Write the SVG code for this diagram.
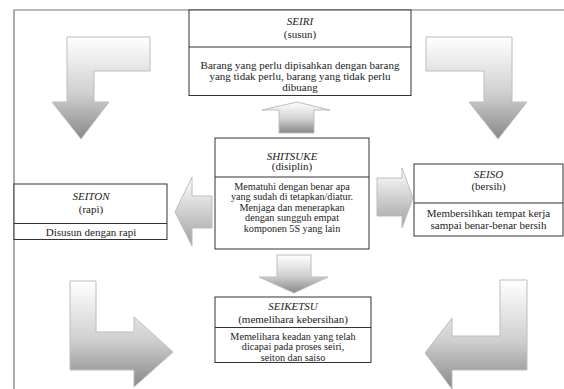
<svg xmlns="http://www.w3.org/2000/svg" width="564" height="389" viewBox="0 0 564 389">
<defs>
<linearGradient id="gv" x1="0" y1="0" x2="0" y2="1">
<stop offset="0" stop-color="#ffffff"/>
<stop offset="0.55" stop-color="#d0d0d0"/>
<stop offset="1" stop-color="#888888"/>
</linearGradient>
<linearGradient id="gh" x1="0" y1="0" x2="0" y2="1">
<stop offset="0" stop-color="#ffffff"/>
<stop offset="1" stop-color="#a0a0a0"/>
</linearGradient>
</defs>
<style>
.box{fill:#ffffff;stroke:#333333;stroke-width:1}
.div{stroke:#333333;stroke-width:1}
.frame{fill:none;stroke:#777777;stroke-width:1.2}
.arr{fill:url(#gv);stroke:#bdbdbd;stroke-width:1}
.arrh{fill:url(#gh);stroke:#bdbdbd;stroke-width:1}
text{font-family:"Liberation Serif","Times New Roman",serif;font-size:11px;fill:#222222;text-anchor:middle}
.t{font-style:italic}
.s{font-size:10.2px}
</style>
<rect width="564" height="389" fill="#ffffff"/>
<path class="frame" d="M14,389 L14,10 L564,10"/>
<g id="connectors">
<path class="arr" d="M67,37 L150,37 L150,71 L94,71 L94,102 L109,102 L81,139 L52,102 L67,102 Z"/>
<path class="arr" d="M426,37 L512,37 L512,102 L527,102 L498,139 L469,102 L484,102 L484,71 L426,71 Z"/>
<path class="arr" d="M70,281 L96,281 L96,332 L134,332 L134,317 L173,352 L134,387 L134,370 L70,370 Z"/>
<path class="arr" d="M500,280 L527,280 L527,370 L452,370 L452,389 L425,353 L452,318 L452,336 L500,336 Z"/>
<path class="arr" d="M297,102 L330,110 L314,110 L314,133 L279,133 L279,110 L262,110 Z"/>
<path class="arr" d="M277,255 L311,255 L311,277 L328,277 L294,293 L259,277 L277,277 Z"/>
<path class="arrh" d="M175,212 L192,177 L192,196 L212,196 L212,228 L192,228 L192,246 Z"/>
<path class="arrh" d="M377,178 L402,178 L402,168 L413,198 L402,228 L402,216 L377,216 Z"/>
</g>
<g id="seiri">
<rect class="box" x="189" y="10" width="222" height="85.5"/>
<line class="div" x1="189" y1="47" x2="411" y2="47"/>
<text class="t" x="300" y="25">SEIRI</text>
<text x="300" y="38">(susun)</text>
<text x="300" y="68.5">Barang yang perlu dipisahkan dengan barang</text>
<text x="300" y="79.5">yang tidak perlu, barang yang tidak perlu</text>
<text x="300" y="90.5">dibuang</text>
</g>
<g id="shitsuke">
<rect class="box" x="215" y="138" width="154" height="111"/>
<line class="div" x1="215" y1="177" x2="369" y2="177"/>
<text class="t" x="292" y="159.5">SHITSUKE</text>
<text x="292" y="170">(disiplin)</text>
<text class="s" x="292" y="189.5">Mematuhi dengan benar apa</text>
<text class="s" x="292" y="200">yang sudah di tetapkan/diatur.</text>
<text class="s" x="292" y="210.5">Menjaga dan menerapkan</text>
<text class="s" x="292" y="221">dengan sungguh empat</text>
<text class="s" x="292" y="231.5">komponen 5S yang lain</text>
</g>
<g id="seiton">
<rect class="box" x="14" y="184" width="153" height="55.5"/>
<line class="div" x1="14" y1="223.5" x2="167" y2="223.5"/>
<text class="t" x="91" y="200">SEITON</text>
<text x="91" y="213">(rapi)</text>
<text x="91" y="235.5">Disusun dengan rapi</text>
</g>
<g id="seiso">
<rect class="box" x="414" y="164" width="149" height="72"/>
<line class="div" x1="414" y1="203" x2="563" y2="203"/>
<text class="t" x="488.5" y="178">SEISO</text>
<text x="488.5" y="189.5">(bersih)</text>
<text x="488.5" y="217">Membersihkan tempat kerja</text>
<text x="488.5" y="229">sampai benar-benar bersih</text>
</g>
<g id="seiketsu">
<rect class="box" x="215" y="297" width="156" height="65.5"/>
<line class="div" x1="215" y1="327.5" x2="371" y2="327.5"/>
<text class="t" x="293" y="309.5">SEIKETSU</text>
<text x="293" y="323">(memelihara kebersihan)</text>
<text class="s" x="293" y="340">Memelihara keadan yang telah</text>
<text class="s" x="293" y="350.3">dicapai pada proses seiri,</text>
<text class="s" x="293" y="360.6">seiton dan saiso</text>
</g>
</svg>
